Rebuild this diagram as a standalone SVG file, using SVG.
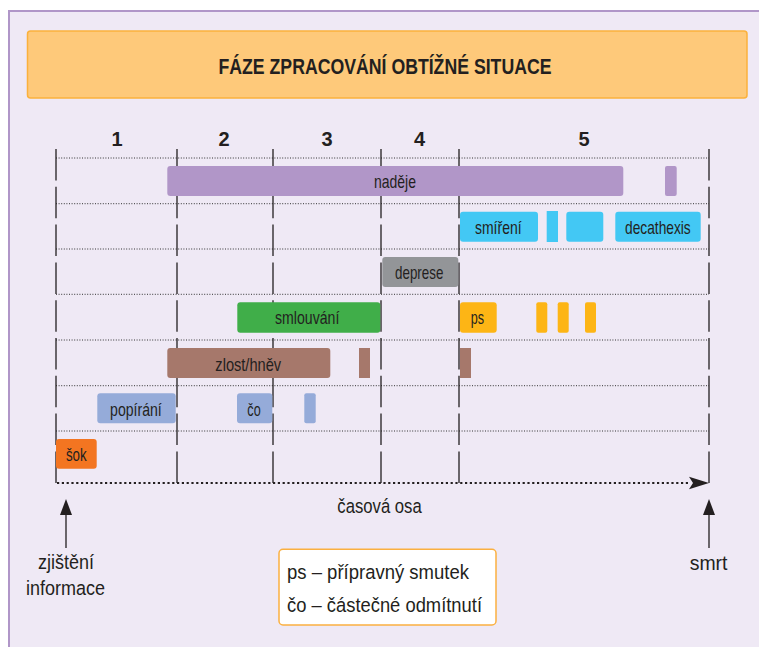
<svg xmlns="http://www.w3.org/2000/svg" width="759" height="647" viewBox="0 0 759 647">
<defs>
<style>
.t{font-family:"Liberation Sans",Arial,sans-serif;fill:#231f20;}
.lb{font-size:18.5px;text-anchor:middle;}
.num{font-size:20px;font-weight:bold;text-anchor:middle;}
.big{font-size:20.5px;}
.vl{stroke:#231f20;stroke-width:1.3;stroke-dasharray:31.5 6.3;fill:none;}
.hl{stroke:#333;stroke-width:1;stroke-dasharray:1 1.6;fill:none;}
.ax{stroke:#231f20;stroke-width:2.2;stroke-dasharray:2.2 2.6;fill:none;}
.ar{stroke:#231f20;stroke-width:1.3;fill:none;}
</style>
</defs>
<rect x="0" y="0" width="759" height="647" fill="#ffffff"/>
<rect x="9" y="11" width="760" height="650" fill="#efe9f5" stroke="#b096c8" stroke-width="2"/>
<g id="title">
<rect x="27.5" y="31" width="719.5" height="67" rx="3" fill="#fec97a" stroke="#fbb13c" stroke-width="1.5"/>
<text class="t" x="385" y="73.5" font-size="22" font-weight="bold" text-anchor="middle" textLength="333" lengthAdjust="spacingAndGlyphs">FÁZE ZPRACOVÁNÍ OBTÍŽNÉ SITUACE</text>
</g>
<g id="phase-numbers">
<text class="t num" x="117" y="145.5">1</text>
<text class="t num" x="224" y="145.5">2</text>
<text class="t num" x="327" y="145.5">3</text>
<text class="t num" x="419.5" y="145.5">4</text>
<text class="t num" x="584" y="145.5">5</text>
</g>
<g id="connectors">
<g id="grid-horizontal">
<line class="hl" x1="56" y1="158" x2="709" y2="158"/>
<line class="hl" x1="56" y1="203.7" x2="709" y2="203.7"/>
<line class="hl" x1="56" y1="249" x2="709" y2="249"/>
<line class="hl" x1="56" y1="294.3" x2="709" y2="294.3"/>
<line class="hl" x1="56" y1="340" x2="709" y2="340"/>
<line class="hl" x1="56" y1="385.7" x2="709" y2="385.7"/>
<line class="hl" x1="56" y1="431" x2="709" y2="431"/>
</g>
<g id="grid-vertical">
<line class="vl" x1="56" y1="149" x2="56" y2="483.5"/>
<line class="vl" x1="177" y1="149" x2="177" y2="483.5"/>
<line class="vl" x1="273" y1="149" x2="273" y2="483.5"/>
<line class="vl" x1="381" y1="149" x2="381" y2="483.5"/>
<line class="vl" x1="459" y1="149" x2="459" y2="483.5"/>
<line class="vl" x1="709" y1="149" x2="709" y2="483.5"/>
</g>
<g id="time-axis">
<line class="ax" x1="57" y1="483" x2="690" y2="483"/>
<polygon points="689,476.7 709,483 689,489.3 693,483" fill="#231f20"/>
</g>
<g id="arrow-start">
<line class="ar" x1="66" y1="513" x2="66" y2="548"/>
<polygon points="66,499 60,515 72,515" fill="#231f20"/>
</g>
<g id="arrow-end">
<line class="ar" x1="709" y1="513" x2="709" y2="548"/>
<polygon points="709,499 703,515 715,515" fill="#231f20"/>
</g>
</g>
<g id="nadeje">
<rect x="167.3" y="166" width="456" height="30" rx="3" fill="#b196c8"/>
<rect x="665" y="166" width="11.7" height="30" rx="2" fill="#b196c8"/>
<text class="t lb" x="395" y="188.3" textLength="42" lengthAdjust="spacingAndGlyphs">naděje</text>
</g>
<g id="smireni">
<rect x="460" y="211.7" width="78" height="30" rx="3" fill="#43c8f4"/>
<rect x="546.7" y="211" width="11.3" height="31" fill="#43c8f4"/>
<rect x="566.3" y="211.7" width="37" height="30" rx="3" fill="#43c8f4"/>
<text class="t lb" x="498.3" y="233.6" textLength="46.7" lengthAdjust="spacingAndGlyphs">smíření</text>
</g>
<g id="decathexis">
<rect x="615.3" y="211.7" width="85.4" height="30" rx="3" fill="#43c8f4"/>
<text class="t lb" x="657.9" y="234" textLength="65.7" lengthAdjust="spacingAndGlyphs">decathexis</text>
</g>
<g id="deprese">
<rect x="382.3" y="257" width="76" height="30" rx="3" fill="#939598"/>
<text class="t lb" x="419.2" y="278.8" textLength="48.3" lengthAdjust="spacingAndGlyphs">deprese</text>
</g>
<g id="smlouvani">
<rect x="237.3" y="302.3" width="143" height="30.4" rx="3" fill="#40ae49"/>
<text class="t lb" x="307.2" y="324" textLength="64.3" lengthAdjust="spacingAndGlyphs">smlouvání</text>
</g>
<g id="ps">
<rect x="460" y="302.3" width="36.7" height="30.4" rx="3" fill="#fdb515"/>
<rect x="536.3" y="302.3" width="11" height="30.4" rx="2" fill="#fdb515"/>
<rect x="557.7" y="302.3" width="11" height="30.4" rx="2" fill="#fdb515"/>
<rect x="585" y="302.3" width="11" height="30.4" rx="2" fill="#fdb515"/>
<text class="t lb" x="477.3" y="324" textLength="13.3" lengthAdjust="spacingAndGlyphs">ps</text>
</g>
<g id="zlost">
<rect x="167.3" y="348" width="163" height="30" rx="3" fill="#a6786b"/>
<rect x="359" y="348" width="11" height="30" fill="#a6786b"/>
<rect x="460" y="348" width="11" height="30" fill="#a6786b"/>
<text class="t lb" x="248.2" y="370.5" textLength="65.7" lengthAdjust="spacingAndGlyphs">zlost/hněv</text>
</g>
<g id="popirani">
<rect x="97.3" y="393.3" width="78.4" height="30" rx="3" fill="#95abd9"/>
<text class="t lb" x="135.9" y="415.5" textLength="51.7" lengthAdjust="spacingAndGlyphs">popírání</text>
</g>
<g id="co">
<rect x="237" y="393.3" width="35.3" height="30" rx="3" fill="#95abd9"/>
<rect x="304.3" y="393.3" width="11.4" height="30" rx="2" fill="#95abd9"/>
<text class="t lb" x="254" y="415.5" textLength="13.3" lengthAdjust="spacingAndGlyphs">čo</text>
</g>
<g id="sok">
<rect x="56" y="439" width="40.7" height="29.7" rx="3" fill="#f37521"/>
<text class="t lb" x="76.3" y="461" textLength="20.7" lengthAdjust="spacingAndGlyphs">šok</text>
</g>
<g id="axis-label">
<text class="t big" x="379.5" y="513.3" text-anchor="middle" textLength="84.4" lengthAdjust="spacingAndGlyphs">časová osa</text>
</g>
<g id="start-label">
<text class="t big" x="66" y="569" text-anchor="middle" textLength="56" lengthAdjust="spacingAndGlyphs">zjištění</text>
<text class="t big" x="65.5" y="595" text-anchor="middle" textLength="79" lengthAdjust="spacingAndGlyphs">informace</text>
</g>
<g id="end-label">
<text class="t big" x="708.6" y="569.5" text-anchor="middle" textLength="37.8" lengthAdjust="spacingAndGlyphs">smrt</text>
</g>
<g id="legend">
<rect x="279" y="549.3" width="217" height="75.7" rx="4" fill="#ffffff" stroke="#fbb040" stroke-width="1.5"/>
<text class="t big" x="287" y="579" textLength="182" lengthAdjust="spacingAndGlyphs">ps – přípravný smutek</text>
<text class="t big" x="287" y="612.3" textLength="195" lengthAdjust="spacingAndGlyphs">čo – částečné odmítnutí</text>
</g>
</svg>
